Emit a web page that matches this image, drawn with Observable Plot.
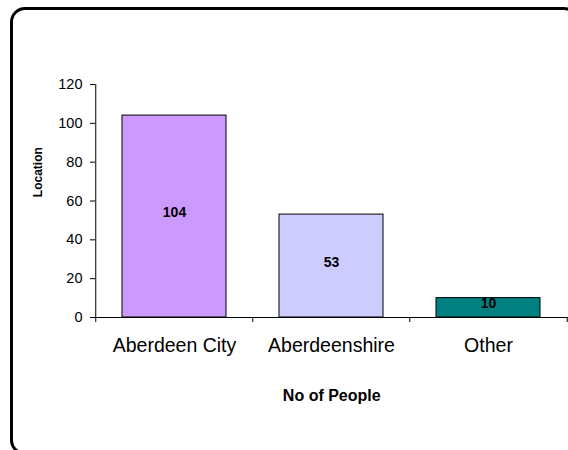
<!DOCTYPE html>
<html>
<head>
<meta charset="utf-8">
<script src="https://cdn.jsdelivr.net/npm/d3@7"></script>
<script src="https://cdn.jsdelivr.net/npm/@observablehq/plot@0.6"></script>
<style>
  html, body { margin: 0; padding: 0; background: #fff; overflow: hidden; width: 568px; height: 450px; }
  #wrap { position: relative; width: 568px; height: 450px; }
  #border { position: absolute; left: 10px; top: 6.5px; width: 563px; height: 442px;
            border: 3px solid #000; border-radius: 15px; pointer-events: none; }
  #chart { position: absolute; left: 0; top: 0; }
</style>
</head>
<body>
<div id="wrap"><div id="chart"></div><div id="border"></div></div>
<script>
const categories = ["Aberdeen City", "Aberdeenshire", "Other"];
const values = [104, 53, 10];
const colors = ["#CC99FF", "#CCCCFF", "#008080"];
const yTicks = [0, 20, 40, 60, 80, 100, 120];
const xLabel = "No of People";
const yLabel = "Location";

const data = categories.map((c, i) => ({category: c, value: values[i], color: colors[i]}));

const W = 568, H = 450;
const mL = 95, mR = 0.5, mT = 84, mB = 133;
const step = (W - mL - mR) / categories.length;
const yMax = d3.max(yTicks);
const pxPerUnit = (H - mT - mB) / yMax;
const tickUnits = 5 / pxPerUnit;
const font = "'Liberation Sans', Arial, sans-serif";

const chart = Plot.plot({
  width: W, height: H,
  marginLeft: mL, marginRight: mR, marginTop: mT, marginBottom: mB,
  style: {fontFamily: font, color: "#000", background: "transparent", overflow: "visible"},
  x: {domain: categories, paddingInner: 0.337, paddingOuter: 0.1685, axis: null},
  y: {domain: [0, yMax], axis: null},
  marks: [
    Plot.barY(data, {x: "category", y: "value", fill: "color", stroke: "#000", strokeWidth: 1}),
    Plot.axisY({ticks: yTicks, tickSize: 5, tickPadding: 8, fontSize: 14.5, label: null, stroke: "#000"}),
    // y axis line (at the left edge of the first category band)
    Plot.ruleX([categories[0]], {x: d => d, dx: -step / 2, y1: -tickUnits, y2: yMax, stroke: "#000"}),
    Plot.ruleY([0], {stroke: "#000"}),
    Plot.ruleX(categories.slice(1), {x: d => d, dx: -step / 2, y1: 0, y2: -tickUnits, stroke: "#000"}),
    Plot.ruleX([categories[categories.length - 1]], {x: d => d, dx: step / 2, y1: 0, y2: -tickUnits, stroke: "#000"}),
    Plot.axisX({tickSize: 0, tickPadding: 21, fontSize: 19.5, label: null}),
    Plot.text(data, {x: "category", y: d => d.value / 2, text: d => String(d.value),
      fontWeight: "bold", fontSize: 14, dy: -4, fill: "#000"}),
    Plot.text([xLabel], {frameAnchor: "bottom", text: d => d, lineAnchor: "top", dy: 72.6,
      fontWeight: "bold", fontSize: 16, fill: "#000"}),
    Plot.text([yLabel], {frameAnchor: "left", text: d => d, rotate: -90, dx: -57.5, dy: -3.8,
      fontWeight: "bold", fontSize: 12, fill: "#000"})
  ]
});
document.getElementById("chart").appendChild(chart);
</script>
</body>
</html>
